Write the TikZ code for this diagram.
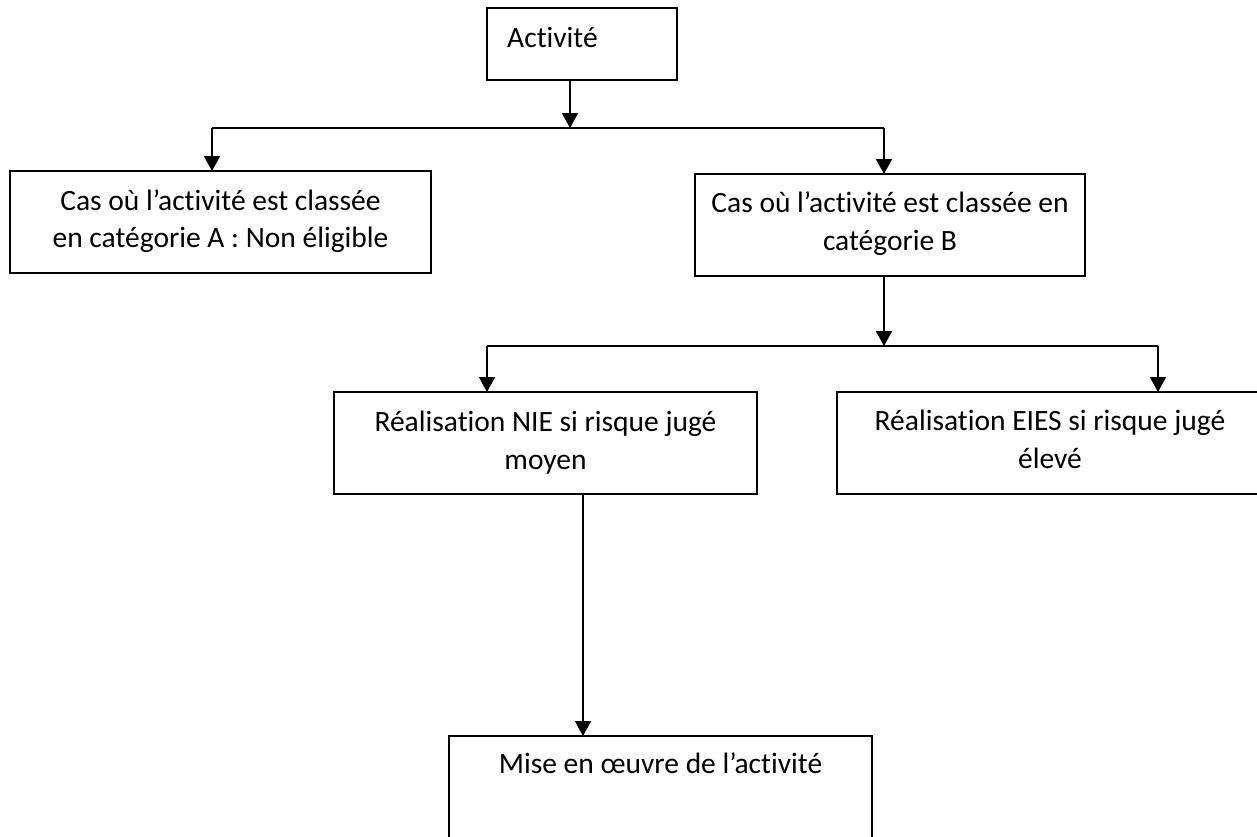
\documentclass[tikz,border=0pt]{standalone}
\usepackage{fontspec}
\setmainfont{Carlito}[Ligatures=NoCommon]
\usetikzlibrary{arrows.meta}
\begin{document}
\begin{tikzpicture}[x=1pt,y=-1pt,
  box/.style={draw=black, line width=1.3pt, inner sep=0pt, outer sep=0pt},
  txt/.style={anchor=base, inner sep=0pt, font=\fontsize{29.5}{38}\selectfont},
  arr/.style={line width=1.9pt, -{Triangle[length=15pt,width=16pt]}},
  hline/.style={line width=1.3pt}]
\useasboundingbox (0,0) rectangle (1257,836);
\clip (0,0) rectangle (1257,836);
% boxes
\node[box, minimum width=190pt, minimum height=72pt] (act) at (582,44) {};
\node[box, minimum width=421pt, minimum height=102pt] (A) at (220.5,222) {};
\node[box, minimum width=390pt, minimum height=102pt] (B) at (890,225) {};
\node[box, minimum width=423pt, minimum height=102pt] (NIE) at (545.5,443) {};
\node[box, minimum width=426pt, minimum height=102pt] (EIES) at (1050,443) {};
\node[box, minimum width=423pt, minimum height=170pt] (mise) at (660.5,821) {};
% texts
\node[txt, anchor=base west] (tact) at (507,47) {Activité};
\node[txt] (tA1) at (220.5,210) {Cas où l’activité est classée};
\node[txt] (tA2) at (220.5,247) {en catégorie A : Non éligible};
\node[txt] (tB1) at (890,212) {Cas où l’activité est classée en};
\node[txt] (tB2) at (890,250) {catégorie B};
\node[txt] (tN1) at (545.5,431) {Réalisation NIE si risque jugé};
\node[txt] (tN2) at (545.5,469) {moyen};
\node[txt] (tE1) at (1050,430) {Réalisation EIES si risque jugé};
\node[txt] (tE2) at (1050,468) {élevé};
\node[txt] (tM) at (660.5,773) {Mise en œuvre de l’activité};
% junctions
\coordinate (j1) at (570,128);
\coordinate (jl) at (212,128);
\coordinate (jr) at (884,128);
\coordinate (j2) at (884,346);
\coordinate (kl) at (487,346);
\coordinate (kr) at (1158,346);
% connectors
\draw[arr] (act.south -| j1) -- (j1);
\draw[hline] (jl) -- (jr);
\draw[arr] (jl) -- (A.north -| jl);
\draw[arr] (jr) -- (B.north -| jr);
\draw[arr] (B.south -| j2) -- (j2);
\draw[hline] (kl) -- (kr);
\draw[arr] (kl) -- (NIE.north -| kl);
\draw[arr] (kr) -- (EIES.north -| kr);
\coordinate (m1) at (583,0);
\draw[arr] (NIE.south -| m1) -- (mise.north -| m1);
\end{tikzpicture}
\end{document}
